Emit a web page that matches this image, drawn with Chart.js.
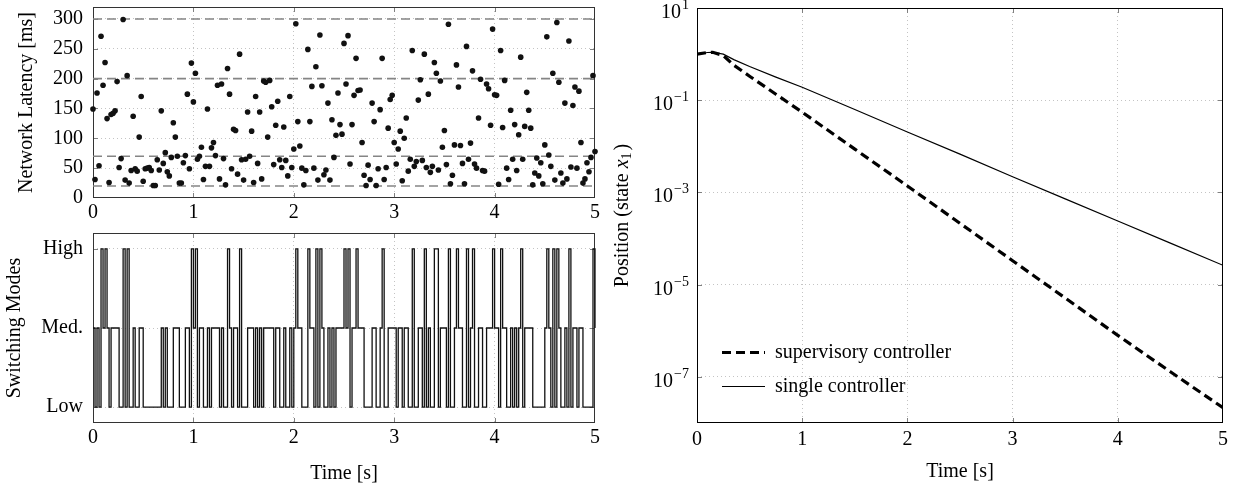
<!DOCTYPE html>
<html>
<head>
<meta charset="utf-8">
<script src="https://cdn.jsdelivr.net/npm/chart.js@4.4.1/dist/chart.umd.min.js"></script>
<style>
html,body{margin:0;padding:0;background:#fff;}
#wrap{position:relative;width:1245px;height:492px;overflow:hidden;background:#fff;}
canvas{position:absolute;display:block;}
</style>
</head>
<body>
<div id="wrap">
  <canvas id="latency" width="610" height="225" style="left:0;top:0;width:610px;height:225px"></canvas>
  <canvas id="modes" width="610" height="267" style="left:0;top:225px;width:610px;height:267px"></canvas>
  <canvas id="position" width="635" height="492" style="left:610px;top:0;width:635px;height:492px"></canvas>
</div>
<script>
// ---------------- data ----------------
const sampleStep = 0.02; // seconds between latency samples
const latencyMs = [
  149,31,176,54,271,189,227,133,26,140,
  142,146,195,51,66,299,30,205,25,46,
  137,49,45,102,170,28,49,50,51,46,
  21,21,64,47,146,58,76,44,37,68,
  126,102,70,25,25,59,71,174,49,226,
  161,209,65,70,85,31,53,149,53,84,
  93,71,189,32,191,66,22,217,174,49,
  115,113,40,241,64,30,65,144,70,112,
  26,170,58,144,32,196,194,102,197,153,
  56,122,162,64,51,119,63,37,170,51,
  82,292,128,87,50,22,46,249,128,187,
  50,220,30,273,188,39,47,159,30,131,
  68,105,176,123,107,259,191,272,57,123,
  172,234,180,181,93,38,21,55,31,159,
  128,21,49,148,234,31,51,117,165,172,
  93,57,82,112,29,100,134,45,65,247,
  53,61,164,198,63,241,51,174,43,53,
  227,209,47,196,85,113,56,291,24,38,
  89,223,186,88,58,24,254,65,92,213,
  57,50,134,199,46,45,191,183,122,283,
  173,172,23,247,118,197,50,31,147,65,
  123,46,106,236,65,120,177,147,117,22,
  42,67,37,59,24,89,270,72,53,209,
  30,294,194,42,25,159,32,263,52,155,
  186,50,179,93,25,32,59,44,68,205,
  78
];
// 0 = Low, 1 = Med., 2 = High
const modeLevels = [
  1,0,1,0,2,1,2,1,0,1,
  1,1,1,0,0,2,0,2,0,0,
  1,0,0,1,1,0,0,0,0,0,
  0,0,0,0,1,0,1,0,0,0,
  1,1,1,0,0,0,1,1,0,2,
  1,2,0,1,1,0,0,1,0,1,
  1,1,1,0,1,0,0,2,1,0,
  1,1,0,2,0,0,0,1,1,1,
  0,1,0,1,0,1,1,1,1,1,
  0,1,1,0,0,1,0,0,1,0,
  1,2,1,1,0,0,0,2,1,1,
  0,2,0,2,1,0,0,1,0,1,
  0,1,1,1,1,2,1,2,0,1,
  1,2,1,1,1,0,0,0,0,1,
  1,0,0,1,2,0,0,1,1,1,
  1,0,1,1,0,1,1,0,0,2,
  0,0,1,1,0,2,0,1,0,0,
  2,2,0,1,1,1,0,2,0,0,
  1,2,1,1,0,0,2,0,1,2,
  0,0,1,1,0,0,1,1,1,2,
  1,1,0,2,1,1,0,0,1,0,
  1,0,1,2,0,1,1,1,1,0,
  0,0,0,0,0,1,2,1,0,2,
  0,2,1,0,0,1,0,2,0,1,
  1,0,1,1,0,0,0,0,0,2,
  1
];
const latencyTicks = [0, 50, 100, 150, 200, 250, 300];
const latencyBands = [20, 70, 200, 300];
const modeTicks = [0, 1, 2];
const modeLabels = ['Low', 'Med.', 'High'];
const timeTicks = [0, 1, 2, 3, 4, 5];

const simTime      = [0, 0.1, 0.15, 0.25, 0.35, 0.5, 0.75, 1, 1.5, 2, 2.5, 3, 3.5, 4, 4.5, 5];
const supervisory  = [1.0, 1.084, 1.096, 0.933, 0.575, 0.331, 0.135, 0.055, 8.71e-3, 1.38e-3, 2.14e-4, 3.31e-5, 5.13e-6, 7.94e-7, 1.29e-7, 2.14e-8];
const single       = [1.0, 1.084, 1.096, 1.0, 0.759, 0.537, 0.316, 0.191, 0.063, 0.0204, 6.76e-3, 2.19e-3, 7.24e-4, 2.40e-4, 7.94e-5, 2.63e-5];
const posTicks     = [1e1, 1e-1, 1e-3, 1e-5, 1e-7];
const posTickExp   = ['1', '\u22121', '\u22123', '\u22125', '\u22127'];
const seriesNames  = ['supervisory controller', 'single controller'];

// ---------------- styling helpers ----------------
const SERIF = "'Liberation Serif','Times New Roman',serif";
const FONT = { family: SERIF, size: 20, lineHeight: 1.2 };
const GRID_COLOR = '#c4c4c4';
const DOT = [1, 3];

function setTicks(values) {
  return function (scale) { scale.ticks = values.map(v => ({ value: v })); };
}
function fixW(w) {
  return function (scale) { scale.width = w; scale.paddingTop = 0; scale.paddingBottom = 0; };
}
function fixH(h) {
  return function (scale) { scale.height = h; scale.paddingLeft = 0; scale.paddingRight = 0; };
}
function innerGrid(min, max) {
  return {
    drawTicks: false,
    lineWidth: 1,
    color: ctx => (ctx.tick && (ctx.tick.value <= min || ctx.tick.value >= max)) ? 'rgba(0,0,0,0)' : GRID_COLOR
  };
}

const boxPlugin = {
  id: 'box',
  beforeDatasetsDraw(chart, args, o) {
    const { ctx, chartArea: a, scales } = chart;
    ctx.save();
    ctx.setLineDash([]);
    ctx.strokeStyle = o.tickColor || '#808080';
    ctx.lineWidth = 1;
    const L = o.tickLen || 5;
    ctx.beginPath();
    (o.xTicks || []).forEach(v => {
      const x = Math.round(scales.x.getPixelForValue(v)) + 0.5;
      ctx.moveTo(x, a.bottom); ctx.lineTo(x, a.bottom - L);
      ctx.moveTo(x, a.top); ctx.lineTo(x, a.top + L);
    });
    (o.yTicks || []).forEach(v => {
      const y = Math.round(scales.y.getPixelForValue(v)) + 0.5;
      ctx.moveTo(a.left, y); ctx.lineTo(a.left + L, y);
      ctx.moveTo(a.right, y); ctx.lineTo(a.right - L, y);
    });
    ctx.stroke();
    ctx.strokeStyle = o.color || '#222';
    ctx.lineWidth = 1;
    ctx.strokeRect(Math.round(a.left) + 0.5, Math.round(a.top) + 0.5,
                   Math.round(a.right - a.left) - 1, Math.round(a.bottom - a.top) - 1);
    ctx.restore();
  }
};

// ---------------- chart 1 : network latency ----------------
const latencyPoints = latencyMs.map((v, i) => ({ x: i * sampleStep, y: v }));
const bandSets = latencyBands.map(v => ({
  type: 'line',
  data: [{ x: 0, y: v }, { x: 5, y: v }],
  borderColor: '#858585', borderWidth: 1.6, borderDash: [9, 5],
  pointRadius: 0, showLine: true, fill: false, order: 2
}));

new Chart(document.getElementById('latency'), {
  type: 'scatter',
  data: {
    datasets: [
      { data: latencyPoints, backgroundColor: '#111', borderColor: '#111', pointRadius: 2.8,
        pointBorderWidth: 0, clip: false, order: 0 },
      ...bandSets
    ]
  },
  options: {
    responsive: false, animation: false, events: [],
    layout: { padding: { top: 7, right: 15, bottom: 0, left: 0 } },
    plugins: { legend: { display: false }, tooltip: { enabled: false },
      box: { xTicks: timeTicks.slice(1, -1), yTicks: latencyTicks.slice(1), color: '#333' } },
    scales: {
      x: {
        type: 'linear', min: 0, max: 5, afterBuildTicks: setTicks(timeTicks), afterFit: fixH(27),
        ticks: { font: FONT, color: '#000', padding: 3, maxRotation: 0 },
        grid: innerGrid(0, 5), border: { display: false, dash: DOT }
      },
      y: {
        min: 0, max: 320, afterBuildTicks: setTicks(latencyTicks), afterFit: fixW(93),
        ticks: { font: FONT, color: '#000', padding: 10 },
        grid: innerGrid(0, 320), border: { display: false, dash: DOT },
        title: { display: true, text: 'Network Latency [ms]', font: FONT, color: '#000', padding: { top: 15, bottom: 0 } }
      }
    }
  },
  plugins: [boxPlugin]
});

// ---------------- chart 2 : switching modes ----------------
const modePoints = modeLevels.map((m, i) => ({ x: i * sampleStep, y: m }));
new Chart(document.getElementById('modes'), {
  type: 'line',
  data: { datasets: [{ data: modePoints, stepped: 'before', borderColor: '#111', borderWidth: 1.3,
    pointRadius: 0, fill: false, clip: 2 }] },
  options: {
    responsive: false, animation: false, events: [],
    layout: { padding: { top: 8, right: 15, bottom: 0, left: 0 } },
    plugins: { legend: { display: false }, tooltip: { enabled: false },
      box: { xTicks: timeTicks.slice(1, -1), yTicks: modeTicks, color: '#333' } },
    scales: {
      x: {
        type: 'linear', min: 0, max: 5, afterBuildTicks: setTicks(timeTicks), afterFit: fixH(69),
        ticks: { font: FONT, color: '#000', padding: 3, maxRotation: 0 },
        grid: innerGrid(0, 5), border: { display: false, dash: DOT },
        title: { display: true, text: 'Time [s]', font: FONT, color: '#000', padding: { top: 0, bottom: 6 } }
      },
      y: {
        type: 'linear', min: -0.2, max: 2.2, afterBuildTicks: setTicks(modeTicks), afterFit: fixW(93),
        ticks: { font: FONT, color: '#000', padding: 10, callback: v => modeLabels[v] },
        grid: innerGrid(-0.2, 2.2), border: { display: false, dash: DOT },
        title: { display: true, text: 'Switching Modes', font: FONT, color: '#000', padding: { top: 3, bottom: 0 } }
      }
    }
  },
  plugins: [boxPlugin]
});

// ---------------- chart 3 : position (log scale) ----------------
const logLabelPlugin = {
  id: 'logLabels',
  afterDraw(chart) {
    const { ctx, chartArea: a, scales: { y } } = chart;
    ctx.save();
    ctx.fillStyle = '#000';
    ctx.textBaseline = 'alphabetic';
    ctx.textAlign = 'left';
    posTicks.forEach((v, i) => {
      const py = y.getPixelForValue(v);
      ctx.font = '20px ' + SERIF; const wb = ctx.measureText('10').width;
      ctx.font = '14px ' + SERIF; const we = ctx.measureText(posTickExp[i]).width;
      const right = a.left - 8;
      ctx.font = '20px ' + SERIF; ctx.fillText('10', right - we - wb - 1, py + 10);
      ctx.font = '14px ' + SERIF; ctx.fillText(posTickExp[i], right - we, py + 1);
    });
    // y-axis title: Position (state x_1)
    const parts = [
      { t: 'Position (state ', f: '20px ' + SERIF, dy: 0 },
      { t: 'x', f: 'italic 20px ' + SERIF, dy: 0 },
      { t: '1', f: '14px ' + SERIF, dy: 4 },
      { t: ')', f: '20px ' + SERIF, dy: 0 }
    ];
    let W = 0;
    parts.forEach(p => { ctx.font = p.f; p.w = ctx.measureText(p.t).width; W += p.w; });
    W += 2;
    ctx.translate(13, (a.top + a.bottom) / 2);
    ctx.rotate(-Math.PI / 2);
    ctx.textBaseline = 'middle';
    let x0 = -W / 2;
    parts.forEach(p => {
      ctx.font = p.f; ctx.fillText(p.t, x0, p.dy);
      x0 += p.w + (p.t === '1' ? 2 : 0);
    });
    ctx.restore();
  }
};
const insideLegend = {
  id: 'insideLegend',
  afterDatasetsDraw(chart) {
    const { ctx, chartArea: a } = chart;
    const rows = [a.bottom - 70.5, a.bottom - 36.5];
    ctx.save();
    chart.data.datasets.forEach((ds, i) => {
      const y = rows[i];
      ctx.beginPath();
      ctx.setLineDash(ds.borderDash || []);
      ctx.lineWidth = ds.borderWidth;
      ctx.strokeStyle = ds.borderColor;
      ctx.moveTo(a.left + 25, y); ctx.lineTo(a.left + 68, y);
      ctx.stroke();
      ctx.setLineDash([]);
      ctx.fillStyle = '#000';
      ctx.font = '20px ' + SERIF;
      ctx.textBaseline = 'middle';
      ctx.textAlign = 'left';
      ctx.fillText(ds.label, a.left + 78, y);
    });
    ctx.restore();
  }
};

new Chart(document.getElementById('position'), {
  type: 'line',
  data: {
    datasets: [
      { label: seriesNames[0], data: simTime.map((t, i) => ({ x: t, y: supervisory[i] })),
        borderColor: '#000', borderWidth: 3.2, borderDash: [9, 5], pointRadius: 0, fill: false, tension: 0 },
      { label: seriesNames[1], data: simTime.map((t, i) => ({ x: t, y: single[i] })),
        borderColor: '#000', borderWidth: 1.2, pointRadius: 0, fill: false, tension: 0 }
    ]
  },
  options: {
    responsive: false, animation: false, events: [],
    layout: { padding: { top: 8, right: 22, bottom: 0, left: 0 } },
    plugins: { legend: { display: false }, tooltip: { enabled: false },
      box: { xTicks: timeTicks.slice(1, -1), yTicks: posTicks.slice(1), color: '#000' } },
    scales: {
      x: {
        type: 'linear', min: 0, max: 5, afterBuildTicks: setTicks(timeTicks), afterFit: fixH(69),
        ticks: { font: FONT, color: '#000', padding: 5, maxRotation: 0 },
        grid: innerGrid(0, 5), border: { display: false, dash: DOT },
        title: { display: true, text: 'Time [s]', font: FONT, color: '#000', padding: { top: 0, bottom: 8 } }
      },
      y: {
        type: 'logarithmic', min: 1e-8, max: 1e1, afterBuildTicks: setTicks(posTicks), afterFit: fixW(87),
        ticks: { display: false },
        grid: innerGrid(1e-8, 1e1), border: { display: false, dash: DOT }
      }
    }
  },
  plugins: [boxPlugin, logLabelPlugin, insideLegend]
});
</script>
</body>
</html>
